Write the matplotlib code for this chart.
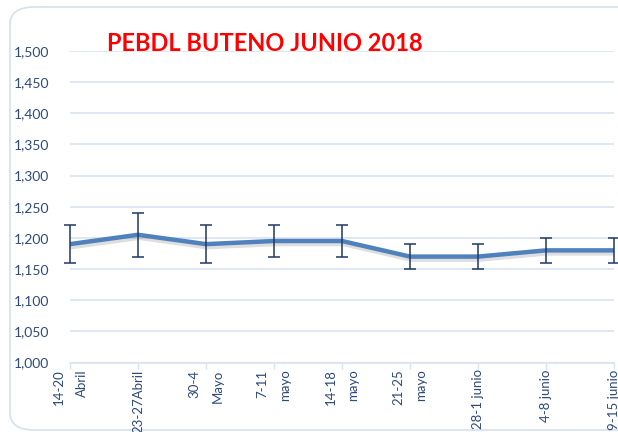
import matplotlib.pyplot as plt
import matplotlib.patheffects as pe
from matplotlib.patches import FancyBboxPatch

plt.rcParams["font.family"] = ["Lato", "DejaVu Sans"]

semanas = ["14-20\nAbril", "23-27Abril", "30-4\nMayo", "7-11\nmayo", "14-18\nmayo",
           "21-25\nmayo", "28-1 junio", "4-8 junio", "9-15 junio"]
precio = [1190, 1205, 1190, 1195, 1195, 1170, 1170, 1180, 1180]
minimo = [1160, 1170, 1160, 1170, 1170, 1150, 1150, 1160, 1160]
maximo = [1220, 1240, 1220, 1220, 1220, 1190, 1190, 1200, 1200]

azul_texto = "#2E4A7A"
grid_col = "#D9E3F1"

fig = plt.figure(figsize=(6.18, 4.32), dpi=100)

# marco redondeado del grafico
marco = FancyBboxPatch((10 / 618, 2 / 432), 640 / 618, 423 / 432,
                       boxstyle="round,pad=0,rounding_size=0.04",
                       transform=fig.transFigure, facecolor="none",
                       edgecolor="#D6E0EE", linewidth=1.2, zorder=-1)
fig.patches.append(marco)

ax = fig.add_axes([70 / 618, 69.5 / 432, 544 / 618, 311.5 / 432])
ax.set_facecolor("none")

x = list(range(len(semanas)))
ax.plot(x, precio, color="#4F81BD", linewidth=3.2, solid_capstyle="round", zorder=3,
        path_effects=[pe.SimpleLineShadow(offset=(0.8, -2.2), shadow_color="black", alpha=0.13),
                      pe.Normal()])
err = [[p - lo for p, lo in zip(precio, minimo)], [hi - p for p, hi in zip(precio, maximo)]]
eb = ax.errorbar(x, precio, yerr=err, fmt="none", ecolor="#1F3864", elinewidth=1.1,
                 capsize=4, capthick=1.1, zorder=4)
for art in list(eb.lines[1]) + list(eb.lines[2]):
    art.set_clip_on(False)

ax.set_xlim(0, len(semanas) - 1)
ax.set_ylim(1000, 1500)
ax.set_yticks(range(1000, 1501, 50))
ax.set_yticklabels([f"{v:,}" for v in range(1000, 1501, 50)], fontsize=10, color=azul_texto)
ax.set_xticks(x)
ax.set_xticklabels(semanas, rotation=90, fontsize=9.5, color=azul_texto, va="top", ha="center",
                   multialignment="right", linespacing=2.1)
ax.tick_params(axis="y", length=0, pad=15)
ax.tick_params(axis="x", length=4, color=grid_col, width=1, pad=1)
ax.grid(axis="y", color=grid_col, linewidth=1.2)
ax.set_axisbelow(True)
for s in ["left", "right", "top"]:
    ax.spines[s].set_visible(False)
ax.spines["bottom"].set_color(grid_col)
ax.spines["bottom"].set_linewidth(1.2)

fig.text(107 / 618, 1 - 51 / 432, "PEBDL BUTENO JUNIO 2018", color="red", fontsize=17,
         fontweight="bold", ha="left", va="baseline")

fig.savefig("out.png", dpi=100)
